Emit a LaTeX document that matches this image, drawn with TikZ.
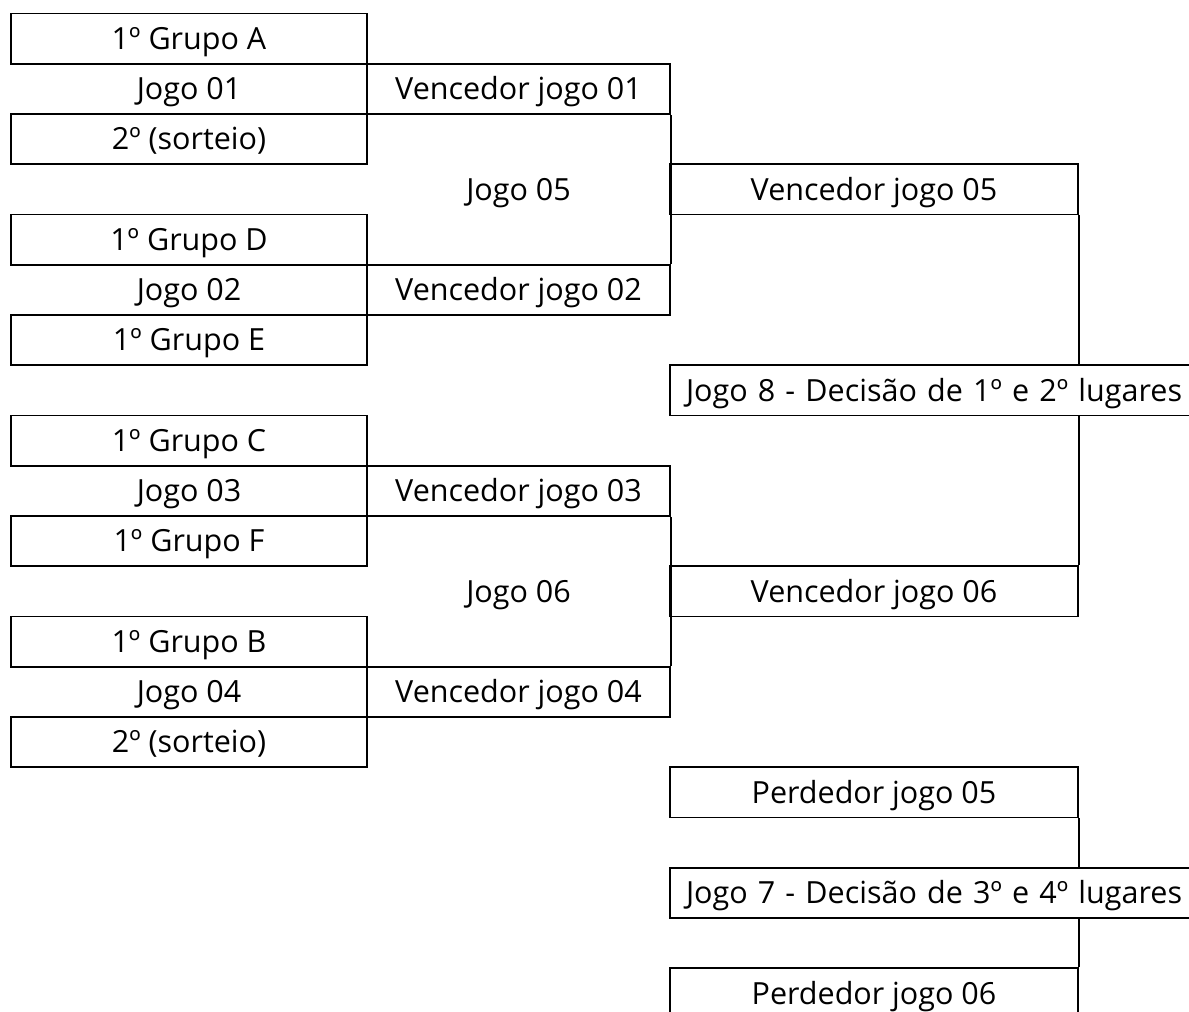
\documentclass[tikz,border=0pt]{standalone}
\usepackage{fontspec}
\setmainfont{Open Sans}
\newcommand{\cellfont}{\fontsize{30.5}{36}\selectfont}
\tikzset{
  cell/.style={minimum height=50.25pt, inner sep=0pt, text height=21.6pt, text depth=0pt, font=\cellfont, line width=1.7pt},
  boxed/.style={cell, draw},
  colA/.style={minimum width=356pt},
  colB/.style={minimum width=303pt},
  colC/.style={minimum width=408pt},
  wide/.style={boxed, minimum width=530pt, text width=498pt, align=left, inner xsep=16pt},
  link/.style={line width=1.7pt}
}
\begin{document}
\begin{tikzpicture}[x=1pt,y=-1pt]
\clip (0,0) rectangle (1189,1012);
% column A
\node[boxed,colA] (A0)  at (189, 38.625) {1º Grupo A};
\node[cell,colA]  (A1)  at (189, 88.875) {Jogo 01};
\node[boxed,colA] (A2)  at (189,139.125) {2º (sorteio)};
\node[boxed,colA] (A4)  at (189,239.625) {1º Grupo D};
\node[cell,colA]  (A5)  at (189,289.875) {Jogo 02};
\node[boxed,colA] (A6)  at (189,340.125) {1º Grupo E};
\node[boxed,colA] (A8)  at (189,440.625) {1º Grupo C};
\node[cell,colA]  (A9)  at (189,490.875) {Jogo 03};
\node[boxed,colA] (A10) at (189,541.125) {1º Grupo F};
\node[boxed,colA] (A12) at (189,641.625) {1º Grupo B};
\node[cell,colA]  (A13) at (189,691.875) {Jogo 04};
\node[boxed,colA] (A14) at (189,742.125) {2º (sorteio)};
% column B
\node[boxed,colB] (B1)  at (518.5, 88.875) {Vencedor jogo 01};
\node[cell,colB]  (B3)  at (518.5,189.375) {Jogo 05};
\node[boxed,colB] (B5)  at (518.5,289.875) {Vencedor jogo 02};
\node[boxed,colB] (B9)  at (518.5,490.875) {Vencedor jogo 03};
\node[cell,colB]  (B11) at (518.5,591.375) {Jogo 06};
\node[boxed,colB] (B13) at (518.5,691.875) {Vencedor jogo 04};
% column C
\node[boxed,colC] (C3)  at (874,189.375) {Vencedor jogo 05};
\node[wide]       (J8)  at (935,390.375) {Jogo 8 - Decisão de 1º e 2º lugares};
\node[boxed,colC] (C11) at (874,591.375) {Vencedor jogo 06};
\node[boxed,colC] (C15) at (874,792.375) {Perdedor jogo 05};
\node[wide]       (J7)  at (935,892.875) {Jogo 7 - Decisão de 3º e 4º lugares};
\node[boxed,colC] (C19) at (874,993.375) {Perdedor jogo 06};
% bracket connectors
\draw[link] (B1.south east) -- (B5.north east);
\draw[link] (B9.south east) -- (B13.north east);
\draw[link] (C3.south east) -- (C3.south east |- J8.north);
\draw[link] (C11.north east |- J8.south) -- (C11.north east);
\draw[link] (C15.south east) -- (C15.south east |- J7.north);
\draw[link] (C19.north east |- J7.south) -- (C19.north east);
\end{tikzpicture}
\end{document}
